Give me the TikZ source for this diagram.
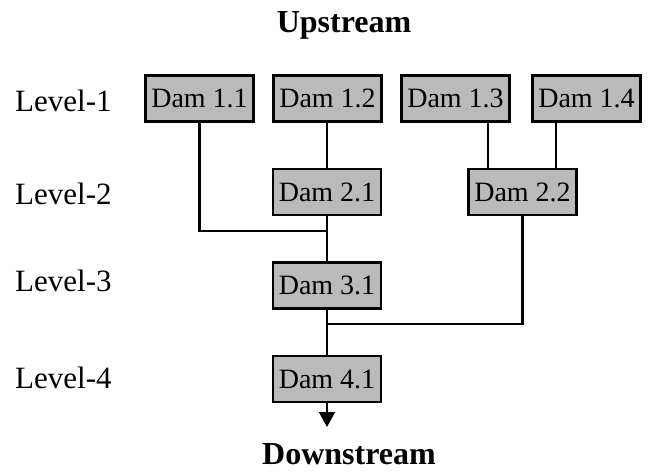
\documentclass[tikz,border=0pt]{standalone}
\usepackage{fontspec}
\setmainfont{Liberation Serif}
\usetikzlibrary{arrows.meta}
\begin{document}
\begin{tikzpicture}[x=1pt,y=-1pt,
  dambox/.style={draw=black, line width=2.6pt, fill=black!27, minimum width=108pt,
    minimum height=46pt, inner sep=0pt, font=\fontsize{28}{30}\selectfont},
  levellabel/.style={anchor=west, inner sep=0pt, font=\fontsize{31}{33}\selectfont},
  heading/.style={inner sep=0pt, font=\fontsize{32}{34}\selectfont\bfseries},
  link/.style={line width=2.2pt}]
\useasboundingbox (0,0) rectangle (649,472);

% headings
\node[heading, anchor=base] (up) at (344,32) {Upstream};
\node[heading, anchor=base] (down) at (349,464) {Downstream};

% level labels
\node[levellabel] (l1) at (15,101) {Level-1};
\node[levellabel] (l2) at (15,194) {Level-2};
\node[levellabel] (l3) at (15,281) {Level-3};
\node[levellabel] (l4) at (15,378) {Level-4};

% dams
\node[dambox] (d11) at (199.5,98.5) {Dam 1.1};
\node[dambox] (d12) at (327.5,98.5) {Dam 1.2};
\node[dambox] (d13) at (455.5,98.5) {Dam 1.3};
\node[dambox] (d14) at (586.5,98.5) {Dam 1.4};
\node[dambox] (d21) at (327,192) {Dam 2.1};
\node[dambox] (d22) at (522.5,192) {Dam 2.2};
\node[dambox] (d31) at (327,285.5) {Dam 3.1};
\node[dambox] (d41) at (327,379) {Dam 4.1};

% junctions and outlet
\coordinate (j1) at (327,231);
\coordinate (j2) at (327,324);
\coordinate (out) at (327,427);

% connectors
\draw[link] (d11.south) |- (j1);
\draw[link] (d12.south -| d21.north) -- (d21.north);
\draw[link] (d21.south) -- (d31.north);
\draw[link] (d13.south -| 488,0) -- (d22.north -| 488,0);
\draw[link] (d14.south -| 556,0) -- (d22.north -| 556,0);
\draw[link] (d22.south) |- (j2);
\draw[link] (d31.south) -- (d41.north);
\draw[link, -{Triangle[length=15pt,width=16pt]}] (d41.south) -- (out);
\end{tikzpicture}
\end{document}
